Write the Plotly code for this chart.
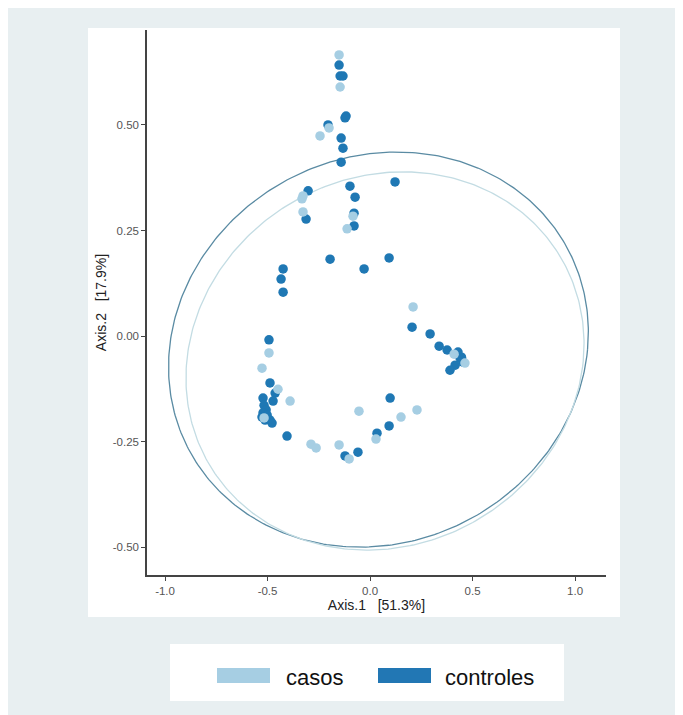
import numpy as np
import plotly.graph_objects as go

# ---- data ----
casos_x = [-0.151, -0.146, -0.200, -0.244, -0.327, -0.332, -0.327, -0.083, -0.112,
           0.210, 0.410, 0.463, -0.493, -0.527, -0.449, -0.390, -0.517, -0.054,
           0.151, 0.229, 0.029, -0.288, -0.263, -0.151, -0.102]
casos_y = [0.666, 0.590, 0.493, 0.474, 0.332, 0.325, 0.294, 0.284, 0.254,
           0.069, -0.043, -0.064, -0.040, -0.076, -0.126, -0.154, -0.194, -0.178,
           -0.192, -0.175, -0.244, -0.256, -0.265, -0.258, -0.291]

controles_x = [-0.151, -0.146, -0.132, -0.117, -0.122, -0.205, -0.141, -0.132, -0.141,
               -0.098, -0.073, 0.122, -0.302, -0.312, -0.078, -0.078, -0.195, -0.029,
               0.093, -0.424, -0.434, -0.424, 0.205, 0.293, 0.337, 0.376, 0.429,
               0.439, 0.454, 0.446, 0.415, 0.390, 0.098, -0.493, -0.488, -0.463,
               -0.522, -0.473, -0.517, -0.507, -0.522, -0.502, -0.527, -0.512,
               -0.488, -0.478, -0.405, 0.093, 0.034, -0.122, -0.059]
controles_y = [0.642, 0.616, 0.616, 0.521, 0.517, 0.500, 0.469, 0.445, 0.412,
               0.355, 0.329, 0.365, 0.344, 0.277, 0.291, 0.261, 0.182, 0.159,
               0.185, 0.159, 0.135, 0.104, 0.021, 0.005, -0.024, -0.033, -0.038,
               -0.052, -0.062, -0.050, -0.069, -0.081, -0.147, -0.009, -0.111, -0.135,
               -0.147, -0.154, -0.164, -0.175, -0.182, -0.187, -0.192, -0.199,
               -0.199, -0.206, -0.237, -0.213, -0.230, -0.284, -0.275]

# ellipse parameters (centre, radii, shear) per group
ell_groups = ["controles", "casos"]
ell_cx = [0.041, 0.073]
ell_cy = [-0.032, -0.059]
ell_rx = [1.020, 0.967]
ell_ry = [0.468, 0.448]
ell_shear = [0.090, 0.088]
ell_colors = ["#5a8ba3", "#c3dce3"]

x_ticks = [-1.0, -0.5, 0.0, 0.5, 1.0]
x_ticktext = ["-1.0", "-0.5", "0.0", "0.5", "1.0"]
y_ticks = [-0.5, -0.25, 0.0, 0.25, 0.5]
y_ticktext = ["-0.50", "-0.25", "0.00", "0.25", "0.50"]

legend_labels = ["casos", "controles"]
c_casos = "#a6cee3"
c_controles = "#1f78b4"

# ---- layout geometry (pixels, page coords; page has an 8px body offset) ----
OFF = 8
W, H = 683, 715
L, R, T, B = 147 - OFF, 606 - OFF, 30 - OFF, 575 - OFF

def px(x):
    return (x - OFF - L) / (R - L)

def py(y):
    return (B - (y - OFF)) / (B - T)

fig = go.Figure()

t = np.linspace(0, 2 * np.pi, 400)
for i in range(len(ell_groups)):
    ex = ell_cx[i] + ell_rx[i] * np.cos(t) + ell_shear[i] * np.sin(t)
    ey = ell_cy[i] + ell_ry[i] * np.sin(t)
    fig.add_trace(go.Scatter(x=ex, y=ey, mode="lines",
                             line=dict(color=ell_colors[i], width=1.3),
                             hoverinfo="skip", showlegend=False))

fig.add_trace(go.Scatter(x=controles_x, y=controles_y, mode="markers", name="controles",
                         marker=dict(color=c_controles, size=9.5, line=dict(width=0)),
                         showlegend=False))
fig.add_trace(go.Scatter(x=casos_x, y=casos_y, mode="markers", name="casos",
                         marker=dict(color=c_casos, size=9.5, line=dict(width=0)),
                         showlegend=False))

shapes = [
    # white panel
    dict(type="rect", xref="paper", yref="paper", x0=px(88), x1=px(620), y0=py(617), y1=py(28),
         fillcolor="white", line=dict(width=0), layer="below"),
    # legend box
    dict(type="rect", xref="paper", yref="paper", x0=px(170), x1=px(564), y0=py(701), y1=py(644),
         fillcolor="white", line=dict(width=0), layer="below"),
    # legend keys
    dict(type="rect", xref="paper", yref="paper", x0=px(217), x1=px(270), y0=py(683), y1=py(668),
         fillcolor=c_casos, line=dict(width=0)),
    dict(type="rect", xref="paper", yref="paper", x0=px(378), x1=px(431), y0=py(683), y1=py(668),
         fillcolor="#2277b4", line=dict(width=0)),
]

annotations = [
    dict(text=legend_labels[0], xref="paper", yref="paper", x=px(284), y=py(677),
         xanchor="left", yanchor="middle", showarrow=False,
         font=dict(size=22, color="#111111", family="Liberation Sans, Arial, sans-serif")),
    dict(text=legend_labels[1], xref="paper", yref="paper", x=px(443), y=py(677),
         xanchor="left", yanchor="middle", showarrow=False,
         font=dict(size=22, color="#111111", family="Liberation Sans, Arial, sans-serif")),
]

fig.update_layout(
    width=W, height=H,
    margin=dict(l=L, r=W - R, t=T, b=H - B),
    paper_bgcolor="#e8eff1",
    plot_bgcolor="white",
    font=dict(family="Liberation Sans, Arial, sans-serif"),
    shapes=shapes,
    annotations=annotations,
    showlegend=False,
)
fig.update_xaxes(range=[-1.088, 1.151], tickvals=x_ticks, ticktext=x_ticktext,
                 showgrid=False, zeroline=False, showline=True, linecolor="#444444", linewidth=1.5,
                 ticks="outside", ticklen=4, tickcolor="#444444", tickwidth=1,
                 tickfont=dict(size=11.5, color="#555555"),
                 title=dict(text="Axis.1   [51.3%]", font=dict(size=14, color="#222222"), standoff=3))
fig.update_yaxes(range=[-0.566, 0.725], tickvals=y_ticks, ticktext=y_ticktext,
                 showgrid=False, zeroline=False, showline=True, linecolor="#444444", linewidth=1.5,
                 ticks="outside", ticklen=4, tickcolor="#444444", tickwidth=1,
                 tickfont=dict(size=11.5, color="#555555"),
                 title=dict(text="Axis.2   [17.9%]", font=dict(size=14, color="#222222"), standoff=3))

fig.write_html("out.html")
